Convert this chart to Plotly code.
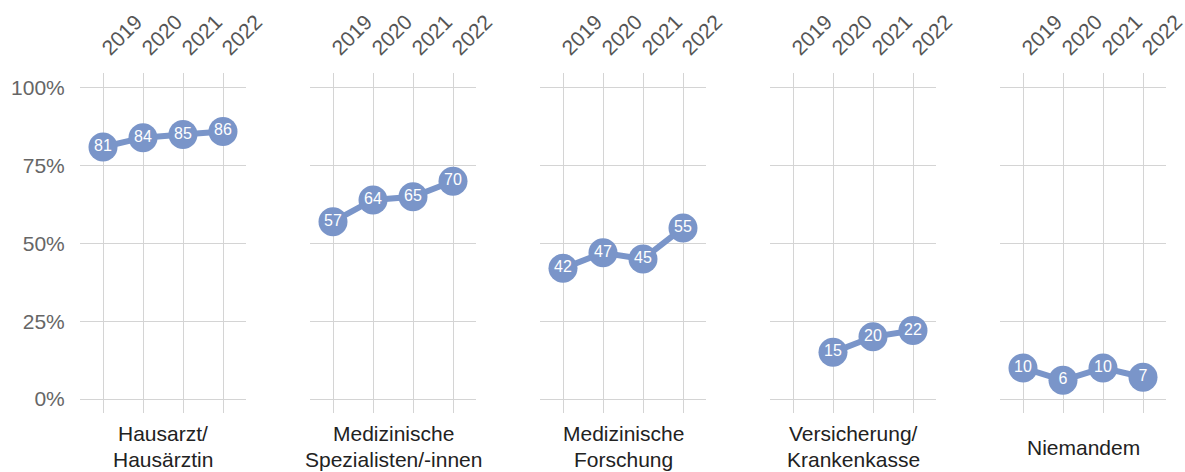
import plotly.graph_objects as go

years = ["2019", "2020", "2021", "2022"]
panel_titles = [["Hausarzt/", "Hausärztin"], ["Medizinische", "Spezialisten/-innen"],
                ["Medizinische", "Forschung"], ["Versicherung/", "Krankenkasse"], ["Niemandem"]]
hausarzt = [81, 84, 85, 86]
spezialisten = [57, 64, 65, 70]
forschung = [42, 47, 45, 55]
versicherung = [None, 15, 20, 22]
niemandem = [10, 6, 10, 7]
series = [hausarzt, spezialisten, forschung, versicherung, niemandem]
y_ticks = [0, 25, 50, 75, 100]
y_tick_labels = ["0%", "25%", "50%", "75%", "100%"]

W, H = 1185, 472
ml, mr, mt, mb = 80, 19, 73, 59
pw = W - ml - mr
ph = H - mt - mb
pitch, width = 230, 166
color = "#7A95C9"
font = "Liberation Sans, Arial, Helvetica, sans-serif"

fig = go.Figure()
layout = {}
for i, vals in enumerate(series):
    xa = "x" if i == 0 else f"x{i+1}"
    ya = "y" if i == 0 else f"y{i+1}"
    xs = [y for y, v in zip(years, vals) if v is not None]
    vs = [v for v in vals if v is not None]
    fig.add_trace(go.Scatter(
        x=xs, y=vs, xaxis=xa, yaxis=ya,
        mode="lines+markers+text",
        line=dict(color=color, width=6),
        marker=dict(color=color, size=29),
        text=[str(v) for v in vs], textposition="middle center",
        textfont=dict(color="white", size=16, family=font),
        showlegend=False, cliponaxis=False, hoverinfo="skip"))
    d0 = pitch * i / pw
    d1 = (pitch * i + width) / pw
    key = "xaxis" if i == 0 else f"xaxis{i+1}"
    ykey = "yaxis" if i == 0 else f"yaxis{i+1}"
    layout[key] = dict(
        domain=[d0, d1], anchor=ya, side="top", type="category",
        categoryorder="array", categoryarray=years,
        range=[-0.575, 3.575], tickangle=-45,
        tickfont=dict(size=21, color="#555555", family=font),
        showgrid=True, gridcolor="#d4d4d4", gridwidth=1,
        ticks="outside", ticklen=4, tickcolor="rgba(0,0,0,0)",
        showline=False, zeroline=False, fixedrange=True, automargin=False)
    layout[ykey] = dict(
        domain=[0, 1], anchor=xa, range=[-4.5, 104.8],
        tickvals=y_ticks, ticktext=y_tick_labels,
        showticklabels=(i == 0),
        tickfont=dict(size=21, color="#666666", family=font),
        showgrid=True, gridcolor="#d4d4d4", gridwidth=1,
        ticks="outside" if i == 0 else "", ticklen=10, tickcolor="rgba(0,0,0,0)",
        showline=False, zeroline=False, fixedrange=True, automargin=False)
    lines = panel_titles[i]
    centers = [433, 459] if len(lines) == 2 else [447]
    for line, cy in zip(lines, centers):
        fig.add_annotation(
            text=line, xref=f"{xa} domain", yref="paper",
            x=0.5, y=-(cy - (H - mb)) / ph, xanchor="center", yanchor="middle",
            showarrow=False, align="center",
            font=dict(size=21, color="#222222", family=font))

fig.update_layout(
    width=W, height=H,
    margin=dict(l=ml, r=mr, t=mt, b=mb, autoexpand=False),
    plot_bgcolor="white", paper_bgcolor="white",
    font=dict(family=font),
    **layout)

fig.write_html("out.html", config={"displayModeBar": False},
               post_script="document.body.style.margin='0px';document.body.style.overflow='hidden';")
